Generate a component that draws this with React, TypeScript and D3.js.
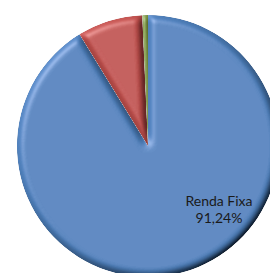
import React from "react";
import * as d3 from "d3";

const categories = ["Renda Fixa", "Renda Variável", "Outros"];
const values = [91.24, 8.06, 0.7];
const colors = ["#4F81BD", "#C0504D", "#7F9A45"];

const W = 270;
const H = 273;
const cx = 148;
const cy = 146;
const R = 131;

export default function App() {
  const pie = d3.pie<number>().sort(null).value((d) => d)(values);
  const arc = d3.arc<d3.PieArcDatum<number>>().innerRadius(0).outerRadius(R);
  const fmt = (v: number) => v.toFixed(2).replace(".", ",") + "%";
  return (
    <svg
      width={W}
      height={H}
      style={{ position: "absolute", left: 0, top: 0, background: "#fff" }}
    >
      <defs>
        <filter id="bevel" x="-10%" y="-10%" width="120%" height="120%">
          <feGaussianBlur in="SourceAlpha" stdDeviation="3.5" result="blur" />
          <feDiffuseLighting in="blur" surfaceScale="6" diffuseConstant="1" lightingColor="#fff" result="diff">
            <feDistantLight azimuth={225} elevation={55} />
          </feDiffuseLighting>
          <feComposite in="SourceGraphic" in2="diff" operator="arithmetic" k1={1.2} k2={0} k3={0} k4={0} result="lit" />
          <feSpecularLighting in="blur" surfaceScale="5" specularConstant="0.45" specularExponent="20" lightingColor="#fff" result="spec">
            <feDistantLight azimuth={225} elevation={45} />
          </feSpecularLighting>
          <feComposite in="spec" in2="SourceAlpha" operator="in" result="specIn" />
          <feComposite in="lit" in2="specIn" operator="arithmetic" k1={0} k2={1} k3={0.45} k4={0} result="out" />
          <feComposite in="out" in2="SourceAlpha" operator="in" />
        </filter>
      </defs>
      <g transform={`translate(${cx},${cy})`}>
        {pie.map((p, i) => (
          <path key={categories[i]} d={arc(p) || ""} fill={colors[i]} filter="url(#bevel)" />
        ))}
      </g>
      <text
        textAnchor="middle"
        fontFamily="Lato, 'Open Sans', sans-serif"
        fontSize={14}
        fill="#1a1a1a"
      >
        <tspan x={219} y={206}>{categories[0]}</tspan>
        <tspan x={219} y={222.5}>{fmt(values[0])}</tspan>
      </text>
    </svg>
  );
}
